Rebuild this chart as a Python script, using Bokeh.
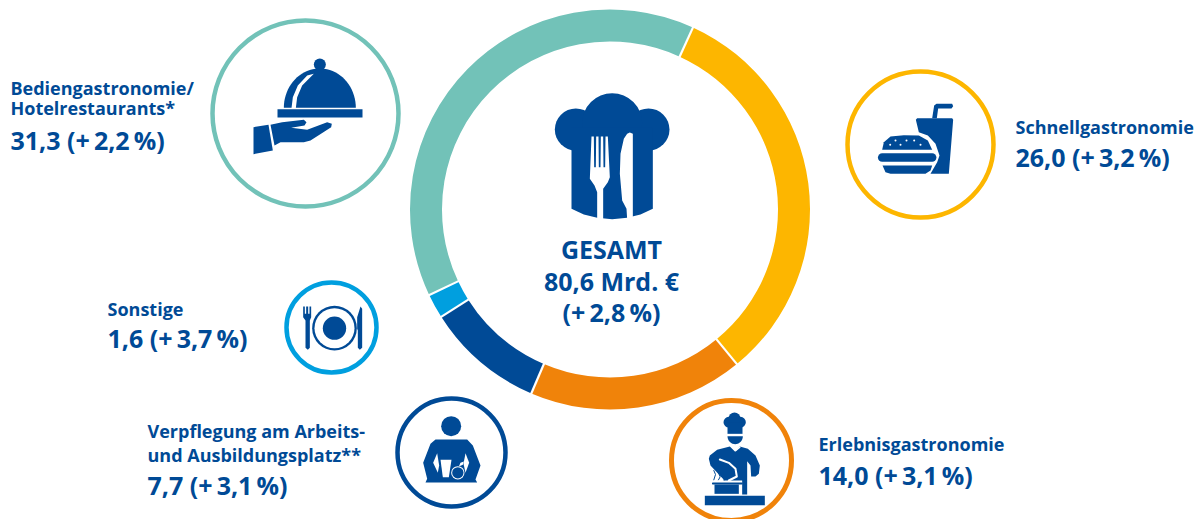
import numpy as np
from bokeh.plotting import figure
from bokeh.models import Range1d
from bokeh.core.properties import value
from bokeh.embed import file_html
from bokeh.resources import INLINE

# ---- data ----
categories = ["Schnellgastronomie", "Erlebnisgastronomie", "Verpflegung", "Sonstige", "Bediengastronomie"]
values = [26.0, 14.0, 7.7, 1.6, 31.3]
ring_colors = ["#FDB600", "#F0830A", "#004A96", "#009FDF", "#72C2B8"]
total_label = ["GESAMT", "80,6 Mrd. €", "(+\u20092,8\u2009%)"]
value_labels = ["26,0 (+\u20093,2\u2009%)", "14,0 (+\u20093,1\u2009%)", "7,7 (+\u20093,1\u2009%)",
                "1,6 (+\u20093,7\u2009%)", "31,3 (+\u20092,2\u2009%)"]
name_labels = [["Schnellgastronomie"], ["Erlebnisgastronomie"],
               ["Verpflegung am Arbeits-", "und Ausbildungsplatz**"], ["Sonstige"],
               ["Bediengastronomie/", "Hotelrestaurants*"]]

NAVY = "#004A96"
FONT = "Open Sans"
W, H = 1201, 519

p = figure(width=W, height=H, x_range=Range1d(0, W), y_range=Range1d(-H, 0),
           output_backend="svg", toolbar_location=None, min_border=0, outline_line_color=None,
           background_fill_color="white", border_fill_color="white")
p.axis.visible = False
p.grid.visible = False


# ---- helpers (pixel position on the page -> plot coordinates) ----
def poly(ox, oy, pts, color=NAVY, s=1 / 3):
    p.patch([ox + a * s for a, b in pts], [-(oy + b * s) for a, b in pts],
            fill_color=color, line_color=None)


def disc(ox, oy, cx, cy, r, color=NAVY, s=1 / 3):
    p.circle([ox + cx * s], [-(oy + cy * s)], radius=r * s, fill_color=color, line_color=None)


def stroke(ox, oy, pts, width, color=NAVY, s=1 / 3):
    p.line([ox + a * s for a, b in pts], [-(oy + b * s) for a, b in pts],
           line_color=color, line_width=width, line_cap="round", line_join="round")


def ring(cx, cy, r, width, color):
    p.circle([cx], [-cy], radius=r, fill_color=None, line_color=color, line_width=width)


def label(x, y, text, size, align="left"):
    p.text([x], [-y], text=[text], text_font=value(FONT), text_font_style="bold",
           text_font_size=f"{size}px", text_color=NAVY, text_align=align, text_baseline="alphabetic")


def half_ellipse(cx, cy, rx, ry, n=40):
    t = np.linspace(np.pi, 2 * np.pi, n)
    return list(zip(cx + rx * np.cos(t), cy + ry * np.sin(t)))


# ---- donut ----
CX, CY, RO, RI = 609.5, 209, 200, 168
frac = np.cumsum([0] + values) / sum(values)
ang = np.radians(90 - 24.5) - frac * 2 * np.pi
p.annular_wedge([CX] * 5, [-CY] * 5, inner_radius=RI, outer_radius=RO, start_angle=ang[:-1], end_angle=ang[1:],
                direction="clock", fill_color=ring_colors, line_color=None)
p.segment(CX + (RI - 1) * np.cos(ang[:-1]), -CY + (RI - 1) * np.sin(ang[:-1]),
          CX + (RO + 1) * np.cos(ang[:-1]), -CY + (RO + 1) * np.sin(ang[:-1]),
          line_color="white", line_width=2.2)

# ---- centre hat ----
ox, oy = 520, 80
disc(ox, oy, 166, 147, 63)
disc(ox, oy, 384, 147, 63)
disc(ox, oy, 275, 128, 90)
poly(ox, oy, [(153, 140), (397, 140), (397, 385), (360, 402), (320, 412), (275, 416), (230, 412), (190, 402), (153, 385)])
poly(ox, oy, [(213, 168), (220, 168), (221, 260), (226, 260), (227, 168), (234, 168), (235, 260), (240, 260), (241, 168),
              (248, 168), (249, 260), (254, 260), (255, 168), (262, 168), (268, 290), (262, 305), (248, 325), (248, 416),
              (230, 416), (230, 335), (222, 315), (208, 295)], "white")
poly(ox, oy, [(320, 160), (328, 156), (337, 160), (337, 416), (320, 416), (318, 385), (305, 360), (298, 280), (300, 220), (310, 175)], "white")

# ---- teal circle: cloche ----
ring(305, 113, 93, 4.5, ring_colors[4])
ox, oy = 200, 10
disc(ox, oy, 358, 162, 18)
poly(ox, oy, half_ellipse(358, 292, 108, 118))
poly(ox, oy, [(273, 293), (286, 293), (290, 260), (305, 225), (340, 190), (320, 195), (292, 225), (277, 260)], "white")
poly(ox, oy, [(231, 296), (486, 296), (486, 321), (231, 321)])
poly(ox, oy, [(159, 350), (204, 343), (217, 420), (159, 431)])
poly(ox, oy, [(210, 343), (245, 335), (310, 328), (318, 335), (312, 345), (272, 352), (320, 358), (380, 335), (394, 340),
              (392, 350), (330, 390), (310, 395), (240, 395), (222, 405)])

# ---- yellow circle: burger ----
ring(920, 144, 73, 4.5, ring_colors[0])
ox, oy = 840, 60
poly(ox, oy, [(226, 178), (230, 173), (335, 173), (338, 178), (325, 340), (270, 340), (290, 305), (297, 285), (285, 250),
              (262, 225), (235, 215)])
poly(ox, oy, [(275, 173), (281, 135), (288, 130), (335, 130), (338, 137), (333, 144), (293, 144), (289, 173)])
poly(ox, oy, [(125, 268), (130, 245), (150, 228), (190, 224), (235, 225), (262, 240), (275, 268)])
stroke(ox, oy, [(125, 291), (275, 291)], 8.5)
poly(ox, oy, [(126, 315), (275, 315), (270, 330), (255, 340), (150, 340), (135, 335)])
for a, b in [(149, 253), (165, 240), (180, 253), (198, 240), (221, 240), (240, 253)]:
    disc(ox, oy, a, b, 3, "white")

# ---- light blue circle: plate ----
ring(331, 327, 45, 4.5, ring_colors[3])
ox, oy = 275, 270
disc(ox, oy, 177, 173, 67)
disc(ox, oy, 177, 173, 60, "white")
disc(ox, oy, 177, 173, 35)
poly(ox, oy, [(83, 108), (88, 108), (88, 130), (92, 130), (92, 108), (98, 108), (98, 130), (102, 130), (102, 108), (107, 108),
              (107, 140), (103, 150), (103, 232), (97, 238), (90, 232), (90, 150), (83, 140)])
poly(ox, oy, [(255, 108), (260, 115), (260, 232), (253, 238), (247, 232), (247, 180), (245, 175), (245, 140)])

# ---- navy circle: person ----
ring(451, 452, 54, 4.5, ring_colors[2])
ox, oy = 385, 385
disc(ox, oy, 197, 122, 30)
poly(ox, oy, [(150, 162), (245, 162), (262, 180), (285, 240), (270, 282), (275, 291), (120, 291), (125, 280), (113, 232), (135, 175)])
poly(ox, oy, [(155, 203), (143, 232), (157, 262), (161, 240)], "white")
poly(ox, oy, [(240, 203), (251, 232), (240, 262), (234, 235)], "white")
poly(ox, oy, [(165, 223), (198, 223), (190, 275), (172, 275)], "white")
disc(ox, oy, 217, 262, 20, "white")
disc(ox, oy, 217, 262, 17)
poly(ox, oy, [(220, 243), (225, 232), (235, 228), (232, 238)], "white")

# ---- orange circle: cook ----
ring(731, 460, 60, 5, ring_colors[1])
ox, oy = 660, 390
disc(ox, oy, 205, 95, 16)
disc(ox, oy, 240, 95, 16)
disc(ox, oy, 222, 84, 18)
poly(ox, oy, [(201, 95), (246, 95), (246, 130), (201, 130)])
poly(ox, oy, half_ellipse(224, 137, 23, -24))
poly(ox, oy, [(148, 195), (170, 178), (208, 168), (224, 184), (238, 168), (262, 175), (285, 195), (298, 225), (295, 250),
              (285, 258), (272, 258), (270, 225), (260, 212), (260, 312), (190, 312), (190, 268), (150, 225), (145, 205)])
stroke(ox, oy, [(178, 207), (205, 217), (225, 235), (229, 258), (205, 270)], 2, "white")
stroke(ox, oy, [(216, 170), (226, 180), (238, 170)], 1.4, "white")
poly(ox, oy, [(145, 270), (245, 270), (245, 314), (145, 314)], "white")
poly(ox, oy, [(162, 282), (235, 282), (235, 310), (162, 310)])
stroke(ox, oy, [(157, 279), (244, 279)], 1.8)
for a in (160, 174, 190):
    stroke(ox, oy, [(a, 240 + (a - 160) / 2), (a + 5, 252 + (a - 160) / 2), (a, 268)], 1)
poly(ox, oy, [(133, 316), (313, 316), (313, 344), (133, 344)])

# ---- texts ----
for i, t in enumerate(total_label):
    label(611, [248, 280, 311][i], t, 25, "center")

name_pos = [(1015, [126]), (818, [443]), (147, [430, 454]), (107, [308]), (10, [87, 107])]
value_pos = [(1015, 156), (818, 474), (147, 484), (107, 337), (10, 139)]
for names, (x, ys), val, (vx, vy) in zip(name_labels, name_pos, value_labels, value_pos):
    for t, y in zip(names, ys):
        label(x, y, t, 18)
    label(vx, vy, val, 25)

open("out.html", "w").write(file_html(p, INLINE))
